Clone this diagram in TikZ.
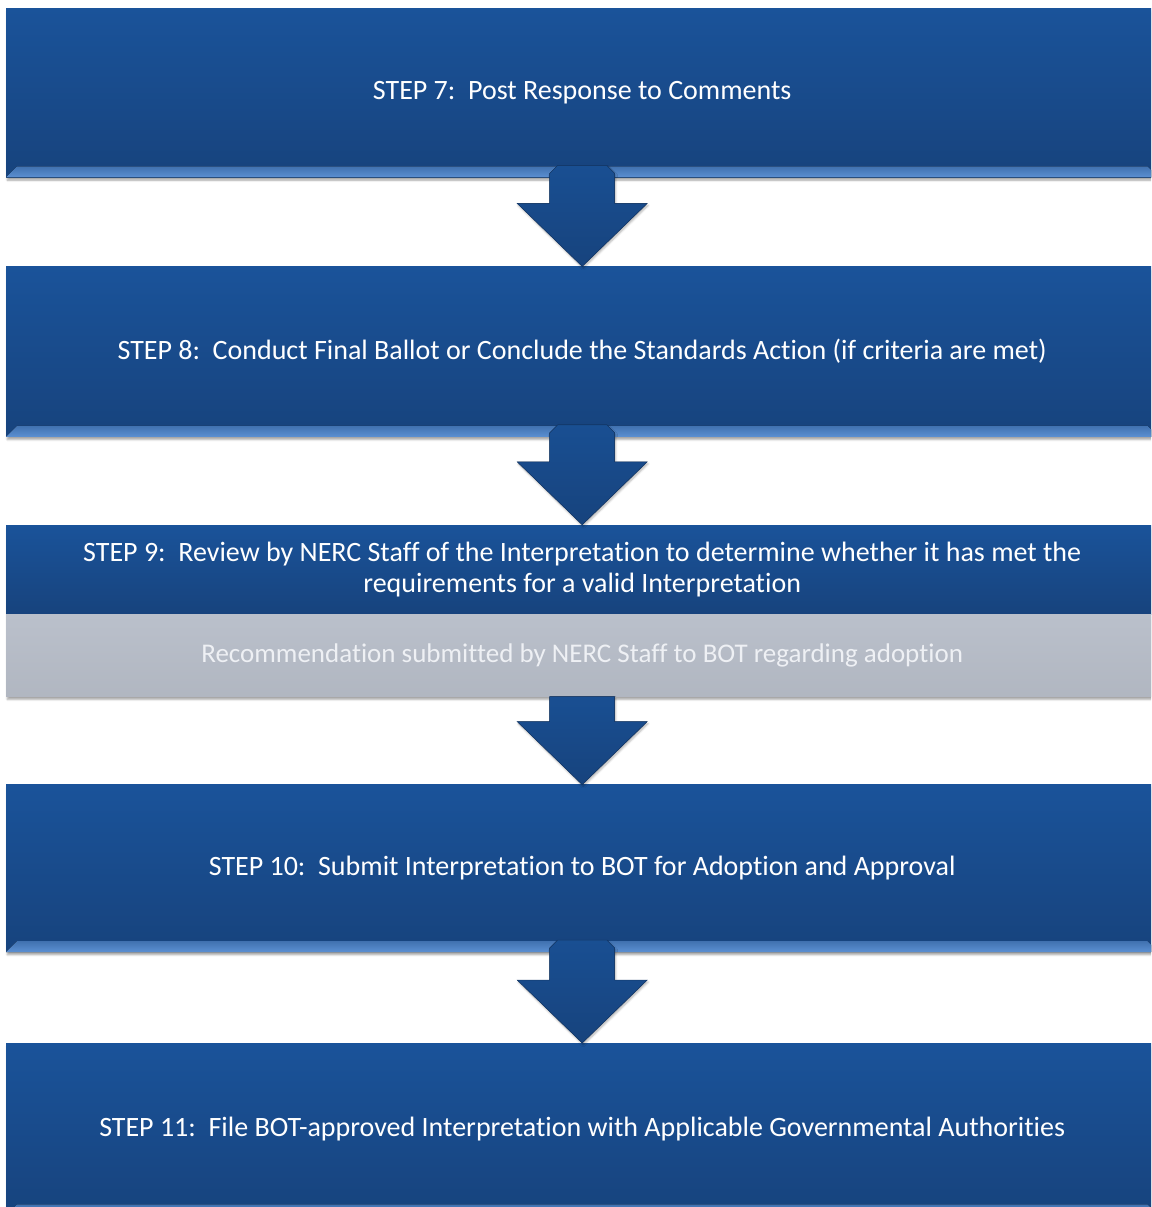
\documentclass[tikz,border=0pt]{standalone}
\usepackage{fontspec}
\setmainfont{Carlito}[Ligatures=NoCommon]
\usetikzlibrary{positioning,calc,shadows.blur}

\definecolor{stepblue}{HTML}{1A539A}
\definecolor{stepbluedark}{HTML}{17437D}
\definecolor{bevelblue}{HTML}{5C90D2}
\definecolor{recgray}{HTML}{BAC0CB}
\definecolor{rectext}{HTML}{EEF0F4}

\begin{document}
\begin{tikzpicture}[ x=1pt, y=1pt, stepbox/.style={ rectangle,
    minimum width=1152pt, inner sep=0pt, top color=stepblue,
    bottom color=stepbluedark, text=white, align=center,
    font=\fontsize{28}{31}\selectfont, blur shadow={shadow xshift=1pt,
    shadow yshift=-3pt, shadow opacity=35} }, recbox/.style={ stepbox,
    top color=recgray, bottom color=recgray!95!black, text=rectext,
    font=\fontsize{27}{31}\selectfont }, bevel/.style={
    top color=bevelblue!60!stepbluedark, bottom color=bevelblue },
    flow/.style={ top color=stepblue!95!black,
    bottom color=stepbluedark, draw=stepbluedark!85!black,
    line width=0.5pt, blur shadow={shadow xshift=1pt, shadow yshift=-2pt,
    shadow opacity=30} } ]
  \useasboundingbox (0,0) rectangle (1151,-1207);
  \clip (0,0) rectangle (1151,-1207);
  % steps
  \node[stepbox,minimum height=169pt,anchor=north west] (s7) at (6,-8)
    {STEP 7:\ \ Post Response to Comments};
  \node[stepbox,minimum height=170pt,below=89pt of s7] (s8)
    {STEP 8:\ \ Conduct Final Ballot or Conclude the Standards Action (if criteria are met)};
  \node[stepbox,minimum height=89pt,below=88pt of s8] (s9)
    {STEP 9:\ \ Review by NERC Staff of the Interpretation to determine whether it has met the\\
     requirements for a valid Interpretation};
  \node[recbox,minimum height=82pt,below=0pt of s9] (rec)
    {Recommendation submitted by NERC Staff to BOT regarding adoption};
  \node[stepbox,minimum height=167pt,below=88pt of rec] (s10)
    {STEP 10:\ \ Submit Interpretation to BOT for Adoption and Approval};
  \node[stepbox,minimum height=172pt,below=91pt of s10] (s11)
    {STEP 11:\ \ File BOT-approved Interpretation with Applicable Governmental Authorities};
  % bottom bevels
  \foreach \n in {s7,s8,s10,s11}
  \fill[bevel] (\n.south west) -- ++(11,11) -- ($(\n.south east)+(-11,11)$)
    -- (\n.south east) -- cycle;
  % arrows (\o: overlap into the box above, \c: corner cut)
  \foreach \a/\b/\o/\c in {s7/s8/12/8,s8/s9/12/8,rec/s10/0/0,s10/s11/12/8}
  \filldraw[flow] ($(\a.south)+(-32.5+\c,\o)$) -- ($(\a.south)+(-32.5,\o-\c)$)
    -- ($(\b.north)+(-32.5,63)$) -- ($(\b.north)+(-65,63)$) -- (\b.north)
    -- ($(\b.north)+(65,63)$) -- ($(\b.north)+(32.5,63)$)
    -- ($(\a.south)+(32.5,\o-\c)$) -- ($(\a.south)+(32.5-\c,\o)$) -- cycle;
\end{tikzpicture}
\end{document}
